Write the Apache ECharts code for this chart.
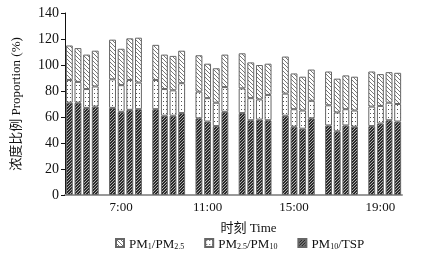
<!DOCTYPE html>
<html>
<head>
<meta charset="utf-8">
<script src="https://cdn.jsdelivr.net/npm/echarts@6/dist/echarts.min.js"></script>
<style>
  html, body { margin: 0; padding: 0; background: #fff; }
  #chart { width: 436px; height: 260px; }
</style>
</head>
<body>
<div id="chart"></div>
<script>
// 时刻 (4 bars per 2-hour group)
var times = [
  '4:30', '5:00', '5:30', '6:00',
  '6:30', '7:00', '7:30', '8:00',
  '8:30', '9:00', '9:30', '10:00',
  '10:30', '11:00', '11:30', '12:00',
  '12:30', '13:00', '13:30', '14:00',
  '14:30', '15:00', '15:30', '16:00',
  '16:30', '17:00', '17:30', '18:00',
  '18:30', '19:00', '19:30', '20:00'
];
var tickLabels = ['7:00', '11:00', '15:00', '19:00'];

// PM10/TSP (bottom)
var pm10Tsp = [
  71, 71, 67, 68,
  67, 64, 65.5, 66,
  66, 61, 61, 63,
  59, 56.5, 53, 64,
  63, 57.5, 58, 57.5,
  61, 52.5, 51, 59,
  53.5, 49, 53.5, 52.5,
  53, 55, 57.5, 56.5
];
// PM2.5/PM10 (middle)
var pm25Pm10 = [
  17.5, 16, 14.5, 15.5,
  22, 20.5, 23, 20.5,
  22.5, 20.5, 19.5, 23,
  20.5, 18, 18, 19,
  19, 17, 15.5, 19.5,
  17, 13.5, 14, 13.5,
  15.5, 14.5, 12.5, 12.5,
  15, 13.5, 13.5, 13.5
];
// PM1/PM2.5 (top)
var pm1Pm25 = [
  26.5, 26, 26.5, 27.5,
  30.5, 28, 32, 34.5,
  27, 26.5, 26.5, 25,
  28, 26.5, 26.5, 25,
  27, 27.5, 26.5, 24,
  28.5, 27.5, 26, 24,
  26, 26, 26, 26,
  27, 24.5, 23.5, 24
];

// 每组之间空一格
function withGaps(arr, gap) {
  var out = [];
  arr.forEach(function (v, i) {
    if (i > 0 && i % 4 === 0) out.push(gap);
    out.push(v);
  });
  return out;
}

function makePattern(w, h, bg, fg, draw) {
  var c = document.createElement('canvas');
  c.width = w; c.height = h;
  var ctx = c.getContext('2d');
  ctx.fillStyle = bg;
  ctx.fillRect(0, 0, w, h);
  ctx.fillStyle = fg;
  draw(ctx);
  return { image: c, repeat: 'repeat' };
}

// 斜线 "\"
var hatchLight = makePattern(4, 4, '#ffffff', '#777777', function (ctx) {
  for (var i = 0; i < 4; i++) ctx.fillRect(i, i, 1, 1);
});
// 点
var dots = makePattern(3, 4, '#ffffff', '#555555', function (ctx) {
  ctx.fillRect(1, 1, 1, 1);
});
// 深色斜线 "/"
var hatchDark = makePattern(3, 3, '#2a2a2a', '#b0b0b0', function (ctx) {
  for (var i = 0; i < 3; i++) ctx.fillRect(i, 2 - i, 1, 1);
});

var legendText = {
  'PM1/PM2.5': '{n|PM}{s|1}{n|/PM}{s|2.5}',
  'PM2.5/PM10': '{n|PM}{s|2.5}{n|/PM}{s|10}',
  'PM10/TSP': '{n|PM}{s|10}{n|/TSP}'
};

var serif = 'Liberation Serif, Times New Roman, serif';

var chart = echarts.init(document.getElementById('chart'));
var options = {
  animation: false,
  grid: {
    left: 65,
    right: 34,
    top: 13,
    bottom: 65
  },
  legend: {
    data: ['PM1/PM2.5', 'PM2.5/PM10', 'PM10/TSP'],
    left: 110,
    top: 232,
    itemWidth: 8,
    itemHeight: 8,
    itemGap: 20,
    icon: 'rect',
    formatter: function (name) {
      return legendText[name];
    },
    textStyle: {
      color: '#111',
      fontFamily: serif,
      fontSize: 13,
      rich: {
        n: { fontFamily: serif, fontSize: 13, color: '#111', lineHeight: 16, verticalAlign: 'bottom' },
        s: { fontFamily: serif, fontSize: 8, color: '#111', lineHeight: 12, verticalAlign: 'bottom', padding: [6, 0, 0, 0] }
      }
    }
  },
  xAxis: {
    type: 'category',
    data: withGaps(times, ''),
    name: '时刻 Time',
    nameLocation: 'middle',
    nameGap: 27,
    nameTextStyle: {
      fontFamily: 'Liberation Serif, Noto Sans CJK SC, serif',
      fontSize: 13,
      color: '#111',
      padding: [0, 0, 0, 30]
    },
    axisLine: {
      lineStyle: { color: '#999', width: 2 }
    },
    axisTick: { show: false },
    axisLabel: {
      interval: function (index, value) {
        return tickLabels.indexOf(value) >= 0;
      },
      fontFamily: serif,
      fontSize: 13,
      color: '#111',
      margin: 6
    }
  },
  yAxis: {
    type: 'value',
    min: 0,
    max: 140,
    interval: 20,
    name: '浓度比例 Proportion (%)',
    nameLocation: 'middle',
    nameRotate: 90,
    nameGap: 42,
    nameTextStyle: {
      fontFamily: 'Liberation Serif, Noto Sans CJK SC, serif',
      fontSize: 13,
      color: '#111'
    },
    axisLine: {
      show: true,
      lineStyle: { color: '#111', width: 1 }
    },
    axisTick: {
      show: true,
      inside: false,
      length: 4,
      lineStyle: { color: '#111' }
    },
    splitLine: { show: false },
    axisLabel: {
      fontFamily: serif,
      fontSize: 14,
      color: '#111',
      margin: 6
    }
  },
  series: [
    {
      name: 'PM10/TSP',
      type: 'bar',
      stack: 'total',
      barCategoryGap: '20%',
      data: withGaps(pm10Tsp, null),
      itemStyle: { color: hatchDark, borderColor: '#666', borderWidth: 1 }
    },
    {
      name: 'PM2.5/PM10',
      type: 'bar',
      stack: 'total',
      barCategoryGap: '20%',
      data: withGaps(pm25Pm10, null),
      itemStyle: { color: dots, borderColor: '#666', borderWidth: 1 }
    },
    {
      name: 'PM1/PM2.5',
      type: 'bar',
      stack: 'total',
      barCategoryGap: '20%',
      data: withGaps(pm1Pm25, null),
      itemStyle: { color: hatchLight, borderColor: '#666', borderWidth: 1 }
    }
  ]
};
chart.setOption(options);
</script>
</body>
</html>
